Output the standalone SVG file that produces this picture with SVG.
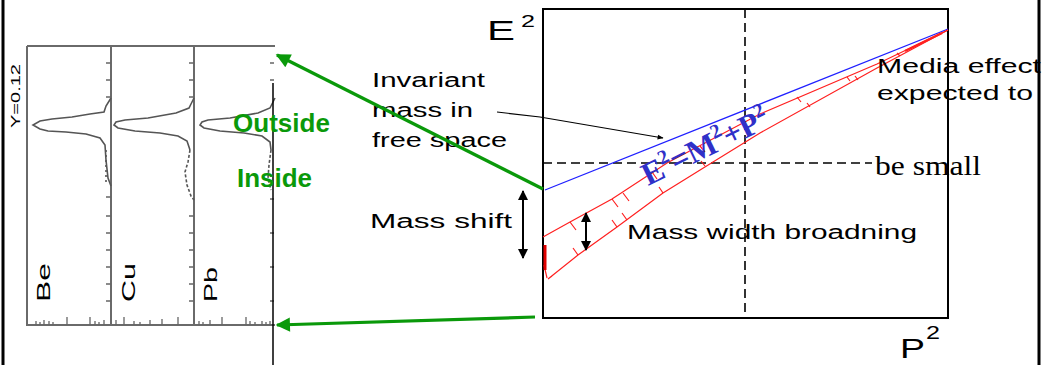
<svg xmlns="http://www.w3.org/2000/svg" width="1042" height="365" viewBox="0 0 1042 365">
<style>
.sans{font-family:"Liberation Sans",Arial,sans-serif;fill:#000}
.lbl{font-size:20px}
.grn{font-family:"Liberation Sans",Arial,sans-serif;font-weight:bold;font-size:25px;fill:#0a990a}
.frame{fill:none;stroke:#6a6a6a;stroke-width:2}
.spec{fill:none;stroke:#555;stroke-width:1.6}
.tick{stroke:#666;stroke-width:1.3}
.red{fill:none;stroke:#ff2020;stroke-width:1.2}
.dash{stroke:#000;stroke-width:1.6;stroke-dasharray:9 5}
.garrow{stroke:#0a990a;stroke-width:3.2;fill:none}
</style>
<defs>
<marker id="gh" viewBox="0 0 10 10" refX="9" refY="5" markerWidth="5" markerHeight="4.5" markerUnits="strokeWidth" orient="auto">
<path d="M0,0 L10,5 L0,10 z" fill="#0a990a"/>
</marker>
<marker id="bh" viewBox="0 0 10 10" refX="9" refY="5" markerWidth="12" markerHeight="6" markerUnits="userSpaceOnUse" orient="auto">
<path d="M0,1 L10,5 L0,9 z" fill="#000"/>
</marker>
<marker id="dh" viewBox="0 0 10 10" refX="9" refY="5" markerWidth="11" markerHeight="10" markerUnits="userSpaceOnUse" orient="auto-start-reverse">
<path d="M0,0 L10,5 L0,10 z" fill="#000"/>
</marker>
</defs>
<rect width="1042" height="365" fill="#fff"/>

<g id="spectra-panel">
<path class="frame" d="M27,46 H275 M27,46 V325 H275 M111,46 V325 M194,46 V325"/>
<text class="sans" font-size="12" transform="translate(20,128) rotate(-90)" textLength="64" lengthAdjust="spacingAndGlyphs">Y=0.12</text>
<text class="sans" font-size="18" fill="#444" transform="translate(50,302) rotate(-90)" textLength="39" lengthAdjust="spacingAndGlyphs">Be</text>
<text class="sans" font-size="18" fill="#444" transform="translate(135,302) rotate(-90)" textLength="39" lengthAdjust="spacingAndGlyphs">Cu</text>
<text class="sans" font-size="18" fill="#444" transform="translate(217,302) rotate(-90)" textLength="35" lengthAdjust="spacingAndGlyphs">Pb</text>
<path class="spec" d="M111,98 L106,106 L104,112 L90,114 L72,117 L52,119 L40,121 L33,125 L40,129 L48,131 L66,132 L86,134 L100,138 L105,145 L106,160 L108,178 L111,186"/>
<path class="spec" stroke-dasharray="2 3" d="M106,150 V185"/>
<path class="spec" d="M194,98 L191,104 L189,108 L176,113 L148,118 L125,120 L116,122 L114,125 L118,128 L135,131 L160,133 L178,136 L187,141 L190,150"/>
<path class="spec" stroke-dasharray="3 2" d="M190,150 L188,162 L185,172 L187,185 L191,196 L194,200"/>
<path class="spec" d="M275,98 L272,104 L270,108 L258,113 L230,118 L208,120 L202,122 L200,125 L204,128 L220,131 L244,133 L262,136 L270,142 L271,150"/>
<path class="spec" stroke-dasharray="3 2" d="M271,150 L269,165 L268,178 L271,190"/>
<path class="tick" d="M106,63 h5 M106,80 h5 M106,97 h5 M106,197 h5 M106,216 h5 M106,233 h5 M106,250 h5 M106,267 h5 M106,284 h5 M106,301 h5
M189,63 h5 M189,80 h5 M189,97 h5 M189,216 h5 M189,233 h5 M189,250 h5 M189,267 h5 M189,284 h5 M189,301 h5
M270,63 h4 M270,80 h4 M270,199 h4 M270,233 h4 M270,267 h4 M270,301 h4"/>
<path class="tick" d="M36,325 v-4 M40,325 v-3 M44,325 v-5 M49,325 v-4 M53,325 v-3 M67,325 v-8 M90,325 v-8 M95,325 v-4 M99,325 v-3 M104,325 v-5 M116,325 v-5 M124,325 v-8 M134,325 v-4 M140,325 v-3 M150,325 v-5 M162,325 v-6 M178,325 v-8 M199,325 v-4 M203,325 v-3 M210,325 v-5 M222,325 v-8 M246,325 v-8 M250,325 v-4 M255,325 v-3 M262,325 v-4 M266,325 v-3 M270,325 v-4"/>
<line x1="273" y1="83" x2="273" y2="365" stroke="#000" stroke-width="1.5"/>
</g>

<g id="outside-label"><text class="grn" x="233" y="132" textLength="97" lengthAdjust="spacingAndGlyphs">Outside</text></g>
<g id="inside-label"><text class="grn" x="237" y="187" textLength="75" lengthAdjust="spacingAndGlyphs">Inside</text></g>

<g id="plot">
<rect x="543" y="9" width="405" height="309" fill="none" stroke="#000" stroke-width="2"/>
<line class="dash" x1="745" y1="9" x2="745" y2="318"/>
<line class="dash" x1="543" y1="163" x2="872" y2="163"/>
<line x1="545" y1="190" x2="948" y2="29" stroke="#2020ff" stroke-width="1.3"/>
<polyline class="red" points="543,237 570,222 612,199 667,163 760,114 877,64 948,30"/>
<polyline class="red" points="552,276 548,279 578,255 617,227 663,193 713,162 760,133 877,68 948,30"/>
<path class="red" d="M544,265 L547,278"/>
<line x1="545" y1="245" x2="545" y2="270" stroke="#e00000" stroke-width="3"/>
<path class="red" d="M570,222 l6,8 M612,199 l6,8 M623,193 l6,8 M652,172 l5,7 M700,146 l5,6 M797,97 l4,5 M847,77 l3,4 M880,63 l2,3
M578,255 l-5,-7 M617,227 l-5,-7 M627,220 l-5,-7 M663,193 l-4,-6 M705,166 l-4,-5 M810,107 l-3,-4 M858,80 l-3,-4 M900,56 l-3,-3"/>
<line x1="942" y1="33" x2="905" y2="51" stroke="#ff2020" stroke-width="2.5"/>
<text font-family="'Liberation Serif','Times New Roman',serif" font-weight="bold" font-size="32" fill="#3030c8" transform="translate(648,186) rotate(-26)">E<tspan font-size="20" dy="-13">2</tspan><tspan dy="13">=M</tspan><tspan font-size="20" dy="-13">2</tspan><tspan dy="13">+P</tspan><tspan font-size="20" dy="-13">2</tspan></text>
</g>

<g id="axis-e2"><text class="sans" font-size="28" x="487" y="40" textLength="28" lengthAdjust="spacingAndGlyphs">E</text><text class="sans" font-size="17" x="521" y="27" textLength="14" lengthAdjust="spacingAndGlyphs">2</text></g>
<g id="axis-p2"><text class="sans" font-size="27" x="900" y="358" textLength="25" lengthAdjust="spacingAndGlyphs">P</text><text class="sans" font-size="18" x="926" y="339" textLength="14" lengthAdjust="spacingAndGlyphs">2</text></g>

<g id="invariant-label" class="sans lbl">
<text x="372" y="87" textLength="113" lengthAdjust="spacingAndGlyphs">Invariant</text>
<text x="372" y="117" textLength="101" lengthAdjust="spacingAndGlyphs">mass in</text>
<text x="372" y="147" textLength="135" lengthAdjust="spacingAndGlyphs">free space</text>
</g>
<g id="media-label" class="sans lbl">
<text x="877" y="73" textLength="164" lengthAdjust="spacingAndGlyphs">Media effect</text>
<text x="877" y="100" textLength="156" lengthAdjust="spacingAndGlyphs">expected to</text>
</g>
<g id="small-label"><text font-family="'Liberation Serif','Times New Roman',serif" font-size="28" x="875" y="175" textLength="106" lengthAdjust="spacingAndGlyphs">be small</text></g>
<g id="mass-shift-label"><text class="sans lbl" x="370" y="228" textLength="142" lengthAdjust="spacingAndGlyphs">Mass  shift</text></g>
<g id="mass-width-label"><text class="sans lbl" x="627" y="239" textLength="290" lengthAdjust="spacingAndGlyphs">Mass width broadning</text></g>

<g id="connectors">
<line class="garrow" x1="543" y1="189" x2="277" y2="55" marker-end="url(#gh)"/>
<line class="garrow" x1="535" y1="317" x2="277" y2="325" marker-end="url(#gh)"/>
<polyline points="497,112 540,117 663,138" fill="none" stroke="#000" stroke-width="1.2" marker-end="url(#bh)"/>
<line x1="523" y1="191" x2="523" y2="258" stroke="#000" stroke-width="2" marker-start="url(#dh)" marker-end="url(#dh)"/>
<line x1="586" y1="213" x2="586" y2="250" stroke="#000" stroke-width="2" marker-start="url(#dh)" marker-end="url(#dh)"/>
</g>

<g id="border">
<line x1="3" y1="0" x2="3" y2="365" stroke="#000" stroke-width="3"/>
<line x1="1039" y1="0" x2="1039" y2="365" stroke="#000" stroke-width="3"/>
</g>
</svg>
